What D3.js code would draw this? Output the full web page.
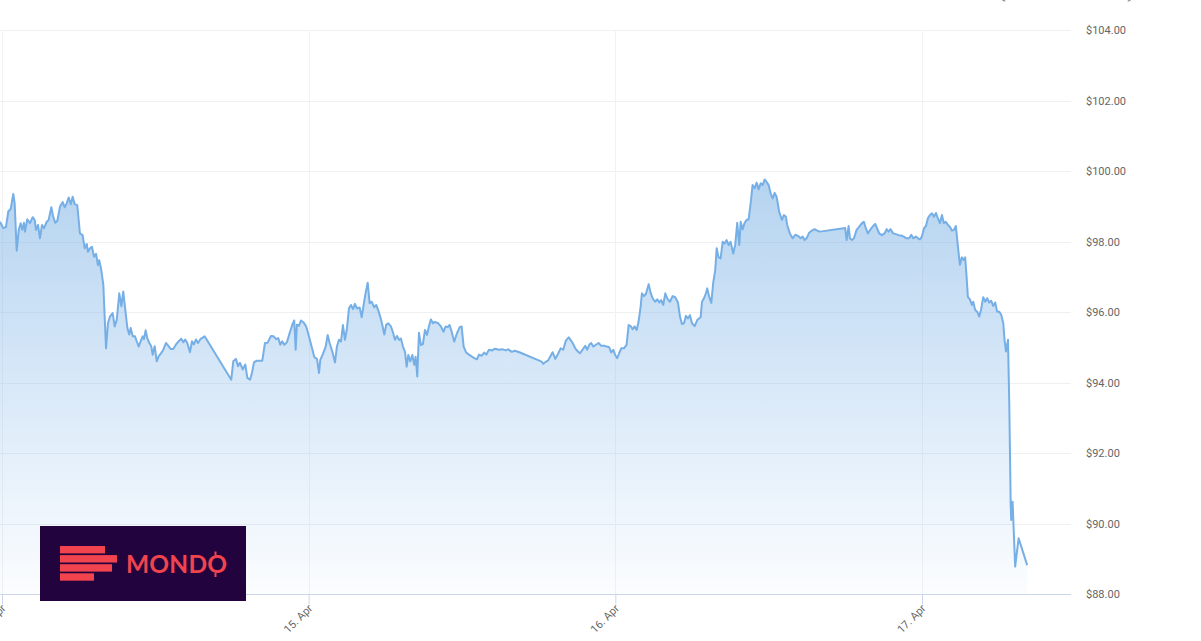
<!DOCTYPE html>
<html><head><meta charset="utf-8">
<script src="https://cdn.jsdelivr.net/npm/d3@7"></script>
<style>
html,body{margin:0;padding:0;background:#fff;overflow:hidden}
svg{display:block;font-family:Roboto,"Open Sans",sans-serif}
</style></head>
<body><svg id="c" width="1201" height="641"></svg>
<script>
// hours since 14 Apr 00:00
const hours = [
-0.16,0.10,0.31,0.49,0.68,0.88,0.99,1.15,1.31,1.46,
1.59,1.72,1.80,1.98,2.19,2.40,2.56,2.66,2.82,2.97,
3.13,3.29,3.50,3.65,3.86,4.01,4.17,4.33,4.54,4.75,
4.91,5.06,5.22,5.38,5.53,5.69,5.89,6.10,6.31,6.47,
6.63,6.73,6.89,7.04,7.20,7.36,7.51,7.61,7.77,7.93,
8.14,8.29,8.45,8.66,8.82,8.98,9.18,9.34,9.49,9.65,
9.81,9.96,10.07,10.23,10.41,10.54,10.70,10.85,11.01,11.11,
11.24,11.37,11.53,11.68,11.79,11.95,12.11,12.26,12.47,12.62,
12.83,13.04,13.20,13.40,13.62,13.83,14.03,14.19,14.34,14.50,
14.71,14.87,15.02,15.18,15.34,15.55,15.86,17.94,18.10,18.31,
18.47,18.62,18.84,19.04,19.20,19.41,19.56,19.72,19.93,20.19,
20.37,20.58,20.79,21.05,21.26,21.46,21.62,21.78,21.93,22.09,
22.30,22.51,22.72,22.87,22.98,23.08,23.24,23.40,23.61,23.81,
24.02,24.23,24.44,24.65,24.81,24.91,25.12,25.33,25.49,25.64,
25.85,26.06,26.21,26.37,26.53,26.68,26.84,27.00,27.15,27.31,
27.47,27.62,27.78,27.99,28.15,28.30,28.46,28.62,28.77,28.93,
29.13,29.29,29.45,29.60,29.76,29.92,30.07,30.23,30.44,30.60,
30.75,30.91,31.07,31.22,31.38,31.54,31.67,31.80,31.95,32.11,
32.26,32.37,32.50,32.63,32.79,32.94,33.10,33.26,33.41,33.57,
33.73,33.88,34.14,34.35,34.56,34.72,34.88,35.03,35.19,35.39,
35.60,35.82,35.97,36.13,36.33,36.54,36.75,36.96,37.17,37.33,
37.54,37.74,37.90,38.11,38.37,38.58,38.89,39.20,39.42,39.62,
39.89,40.14,40.54,42.23,42.36,42.57,42.73,42.94,43.09,43.30,
43.51,43.72,43.92,44.13,44.35,44.50,44.66,44.86,45.07,45.23,
45.44,45.64,45.80,45.96,46.11,46.27,46.48,46.69,46.90,47.11,
47.32,47.52,47.68,47.84,47.99,48.15,48.30,48.46,48.67,48.88,
49.04,49.20,49.35,49.51,49.67,49.82,49.98,50.08,50.24,50.39,
50.61,50.76,50.92,51.12,51.28,51.44,51.59,51.75,51.91,52.06,
52.27,52.48,52.69,52.90,53.06,53.21,53.37,53.53,53.68,53.84,
54.00,54.21,54.41,54.57,54.68,54.78,54.94,55.09,55.19,55.35,
55.51,55.66,55.82,55.93,56.08,56.24,56.40,56.55,56.71,56.87,
57.02,57.23,57.38,57.54,57.70,57.81,57.96,58.12,58.27,58.43,
58.59,58.74,58.90,59.06,59.21,59.37,59.53,59.68,59.84,60.00,
60.15,60.31,60.47,60.62,60.82,61.04,61.19,61.35,61.45,61.66,
61.87,62.08,62.29,62.50,62.66,62.81,62.97,63.17,63.38,63.60,
63.80,64.01,65.99,66.10,66.26,66.36,66.51,66.67,66.88,67.09,
67.30,67.45,67.61,67.77,67.98,68.18,68.34,68.49,68.65,68.86,
69.07,69.23,69.38,69.54,69.74,69.96,70.17,70.37,70.58,70.79,
71.00,71.16,71.31,71.52,71.68,71.84,71.99,72.15,72.31,72.46,
72.62,72.78,72.93,73.09,73.24,73.40,73.56,73.71,73.87,74.03,
74.18,74.34,74.50,74.65,74.76,74.86,74.97,75.12,75.28,75.38,
75.49,75.59,75.75,75.91,76.01,76.16,76.32,76.48,76.63,76.79,
76.95,77.10,77.26,77.42,77.57,77.73,77.88,78.04,78.20,78.36,
78.46,78.57,78.73,78.83,78.94,78.98,79.09,79.29,79.56,80.23
];
const prices = [
98.56,98.38,98.41,98.85,98.92,99.35,99.09,97.74,98.33,98.52,
98.33,98.53,98.28,98.63,98.52,98.69,98.61,98.33,98.47,98.09,
98.47,98.38,98.56,98.61,98.97,98.70,98.53,98.59,98.99,99.12,
98.97,99.08,99.25,99.06,99.27,99.06,99.03,98.23,98.18,97.81,
97.93,97.71,97.81,97.85,97.57,97.65,97.33,97.47,97.19,96.77,
94.97,95.68,95.87,95.97,95.59,95.78,96.53,96.16,96.58,96.06,
95.55,95.36,95.55,95.31,95.31,95.17,95.02,95.17,95.31,95.23,
95.48,95.26,95.12,95.03,94.79,95.03,94.60,94.74,94.84,94.93,
95.12,95.03,94.95,94.95,95.08,95.17,95.24,95.14,95.22,95.12,
94.86,95.17,95.08,95.22,95.12,95.24,95.31,94.08,94.60,94.67,
94.46,94.56,94.37,94.51,94.13,94.08,94.27,94.57,94.62,94.62,
94.62,95.12,95.13,95.32,95.31,95.23,95.26,95.07,95.17,95.07,
95.14,95.40,95.64,95.76,94.93,95.64,95.61,95.76,95.70,95.59,
95.31,95.02,94.72,94.67,94.27,94.64,94.81,95.02,95.35,95.12,
94.88,94.57,95.02,95.21,95.16,95.63,95.21,95.54,96.10,96.20,
96.08,96.23,96.10,96.13,95.85,96.20,96.55,96.83,96.25,96.29,
96.13,96.20,96.04,95.87,95.64,95.36,95.64,95.68,95.59,95.42,
95.21,95.32,95.21,95.25,95.02,94.87,94.45,94.78,94.60,94.78,
94.50,94.73,94.17,95.41,95.06,95.09,95.49,95.35,95.59,95.79,
95.68,95.72,95.68,95.59,95.44,95.59,95.57,95.63,95.44,95.16,
95.39,95.57,95.59,95.02,94.85,94.79,94.74,94.69,94.66,94.79,
94.76,94.85,94.79,94.93,94.91,94.96,94.93,94.94,94.91,94.94,
94.87,94.90,94.85,94.59,94.53,94.59,94.62,94.76,94.86,94.67,
94.81,94.97,94.93,95.19,95.28,95.21,95.12,94.97,94.88,94.83,
94.93,95.04,94.93,95.07,95.12,95.02,95.07,95.12,95.04,95.04,
95.02,95.00,94.85,94.93,94.78,94.69,94.83,94.97,94.97,95.07,
95.63,95.60,95.51,95.59,95.49,95.73,96.15,96.53,96.45,96.51,
96.79,96.55,96.39,96.29,96.36,96.27,96.34,96.20,96.53,96.39,
96.29,96.45,96.42,96.27,95.87,95.66,95.68,95.89,95.82,95.91,
95.68,95.60,95.77,95.82,95.86,96.29,96.39,96.53,96.67,96.43,
96.26,96.83,97.19,97.81,97.55,97.52,97.99,97.94,98.04,97.90,
97.99,97.66,97.90,98.53,97.90,98.56,98.34,98.53,98.61,98.63,
99.08,99.60,99.51,99.67,99.48,99.65,99.60,99.76,99.69,99.60,
99.37,99.22,99.38,99.27,98.85,98.61,98.75,98.70,98.47,98.23,
98.09,98.19,98.16,98.09,98.14,98.04,98.09,98.25,98.31,98.35,
98.31,98.28,98.38,98.04,98.44,98.09,98.04,98.09,98.33,98.42,
98.52,98.56,98.37,98.23,98.35,98.44,98.50,98.37,98.23,98.18,
98.23,98.35,98.28,98.35,98.23,98.21,98.18,98.17,98.14,98.09,
98.09,98.19,98.09,98.14,98.09,98.06,98.14,98.37,98.44,98.66,
98.75,98.80,98.70,98.81,98.66,98.52,98.75,98.52,98.56,98.47,
98.42,98.31,98.33,98.44,98.04,97.69,97.34,97.55,97.47,97.55,
97.00,96.43,96.36,96.20,96.29,96.06,96.01,95.87,96.08,96.42,
96.29,96.39,96.27,96.32,96.17,96.27,96.01,96.01,95.92,95.68,
95.21,94.88,95.21,93.41,90.57,90.10,90.62,88.78,89.58,88.82
];
const yTicks = [88,90,92,94,96,98,100,102,104];
const xTickDays = [14,15,16,17];
const headerText = "(u dolarima)";
const logoText = "MONDO";

const svg = d3.select("#c");
const base = Date.UTC(2024,3,14);
const plotL = 0, plotR = 1071, plotT = 30, plotB = 594;

const x = d3.scaleUtc()
  .domain([new Date(base), new Date(base + 3*864e5)])
  .range([2, 922]);
const y = d3.scaleLinear().domain([88,104]).range([plotB, plotT]);

const data = hours.map((h,i)=>({t:new Date(base + h*3600e3), v:prices[i]}));

const defs = svg.append("defs");
const g1 = defs.append("linearGradient").attr("id","ag")
  .attr("gradientUnits","userSpaceOnUse")
  .attr("x1",0).attr("x2",0).attr("y1",y(d3.max(prices))).attr("y2",plotB);
g1.append("stop").attr("offset","0%").attr("stop-color","#78afe3").attr("stop-opacity",0.55);
g1.append("stop").attr("offset","100%").attr("stop-color","#7cb5ec").attr("stop-opacity",0.03);

// horizontal grid
svg.append("g").selectAll("line").data(yTicks).join("line")
  .attr("x1",plotL).attr("x2",plotR)
  .attr("y1",d=>Math.round(y(d))+0.5).attr("y2",d=>Math.round(y(d))+0.5)
  .attr("stroke","#f0f0f0").attr("stroke-width",1);

const tickDates = xTickDays.map(d=>new Date(Date.UTC(2024,3,d)));
// vertical grid
svg.append("g").selectAll("line").data(tickDates).join("line")
  .attr("x1",d=>Math.round(x(d))+0.5).attr("x2",d=>Math.round(x(d))+0.5)
  .attr("y1",plotT).attr("y2",plotB)
  .attr("stroke","#f2f2f2").attr("stroke-width",1);

// area + line
const area = d3.area().x(d=>x(d.t)).y0(plotB).y1(d=>y(d.v));
const line = d3.line().x(d=>x(d.t)).y(d=>y(d.v));
svg.append("path").datum(data).attr("d",area).attr("fill","url(#ag)");
svg.append("path").datum(data).attr("d",line)
  .attr("fill","none").attr("stroke","#76afe6").attr("stroke-width",2)
  .attr("stroke-linejoin","round");

// x axis
const xAxis = d3.axisBottom(x).tickValues(tickDates).tickSize(10).tickSizeOuter(0)
  .tickFormat(d3.utcFormat("%d. %b"));
const gx = svg.append("g").attr("transform",`translate(0,${plotB})`).call(xAxis);
gx.select(".domain").remove();
gx.append("line").attr("x1",plotL).attr("x2",plotR).attr("y1",0.5).attr("y2",0.5).attr("stroke","#ccd6eb");
gx.selectAll(".tick line").attr("stroke","#ccd6eb");
gx.selectAll(".tick text")
  .attr("fill","#666").attr("font-size",11).attr("font-family","Roboto, sans-serif")
  .attr("text-anchor","end").attr("dy",null).attr("y",0)
  .attr("transform","translate(4,15) rotate(-45)");

// y axis labels on right
const yAxis = d3.axisRight(y).tickValues(yTicks).tickSize(0)
  .tickFormat(d=>"$"+d.toFixed(2));
const gy = svg.append("g").attr("transform",`translate(1086,0)`).call(yAxis);
gy.select(".domain").remove();
gy.selectAll(".tick text").attr("x",0).attr("fill","#666").attr("font-size",11)
  .attr("font-family","Roboto, sans-serif");

// header text partially cut off at top (as in the reference)
svg.append("text").attr("x",997).attr("y",-2).attr("font-size",16).attr("fill","#888")
  .attr("textLength",139).attr("lengthAdjust","spacingAndGlyphs").text(headerText);

// logo
const lg = svg.append("g");
lg.append("rect").attr("x",40).attr("y",526).attr("width",206).attr("height",75).attr("fill","#23033d");
const barW = [45,57,52,34];
lg.selectAll("rect.b").data(barW).join("rect").attr("class","b")
  .attr("x",60).attr("y",(d,i)=>546+i*9.1).attr("width",d=>d).attr("height",7.4).attr("fill","#f1444f");
lg.append("text").attr("x",126).attr("y",573).attr("font-size",24.5)
  .attr("font-family","Lato, sans-serif").attr("font-weight",700).attr("fill","#f1444f")
  .attr("textLength",101).attr("lengthAdjust","spacing").text(logoText);
lg.append("rect").attr("x",214.5).attr("y",551.5).attr("width",2).attr("height",4).attr("fill","#f1444f");
lg.append("rect").attr("x",214.5).attr("y",573).attr("width",2).attr("height",4).attr("fill","#f1444f");
</script></body></html>
